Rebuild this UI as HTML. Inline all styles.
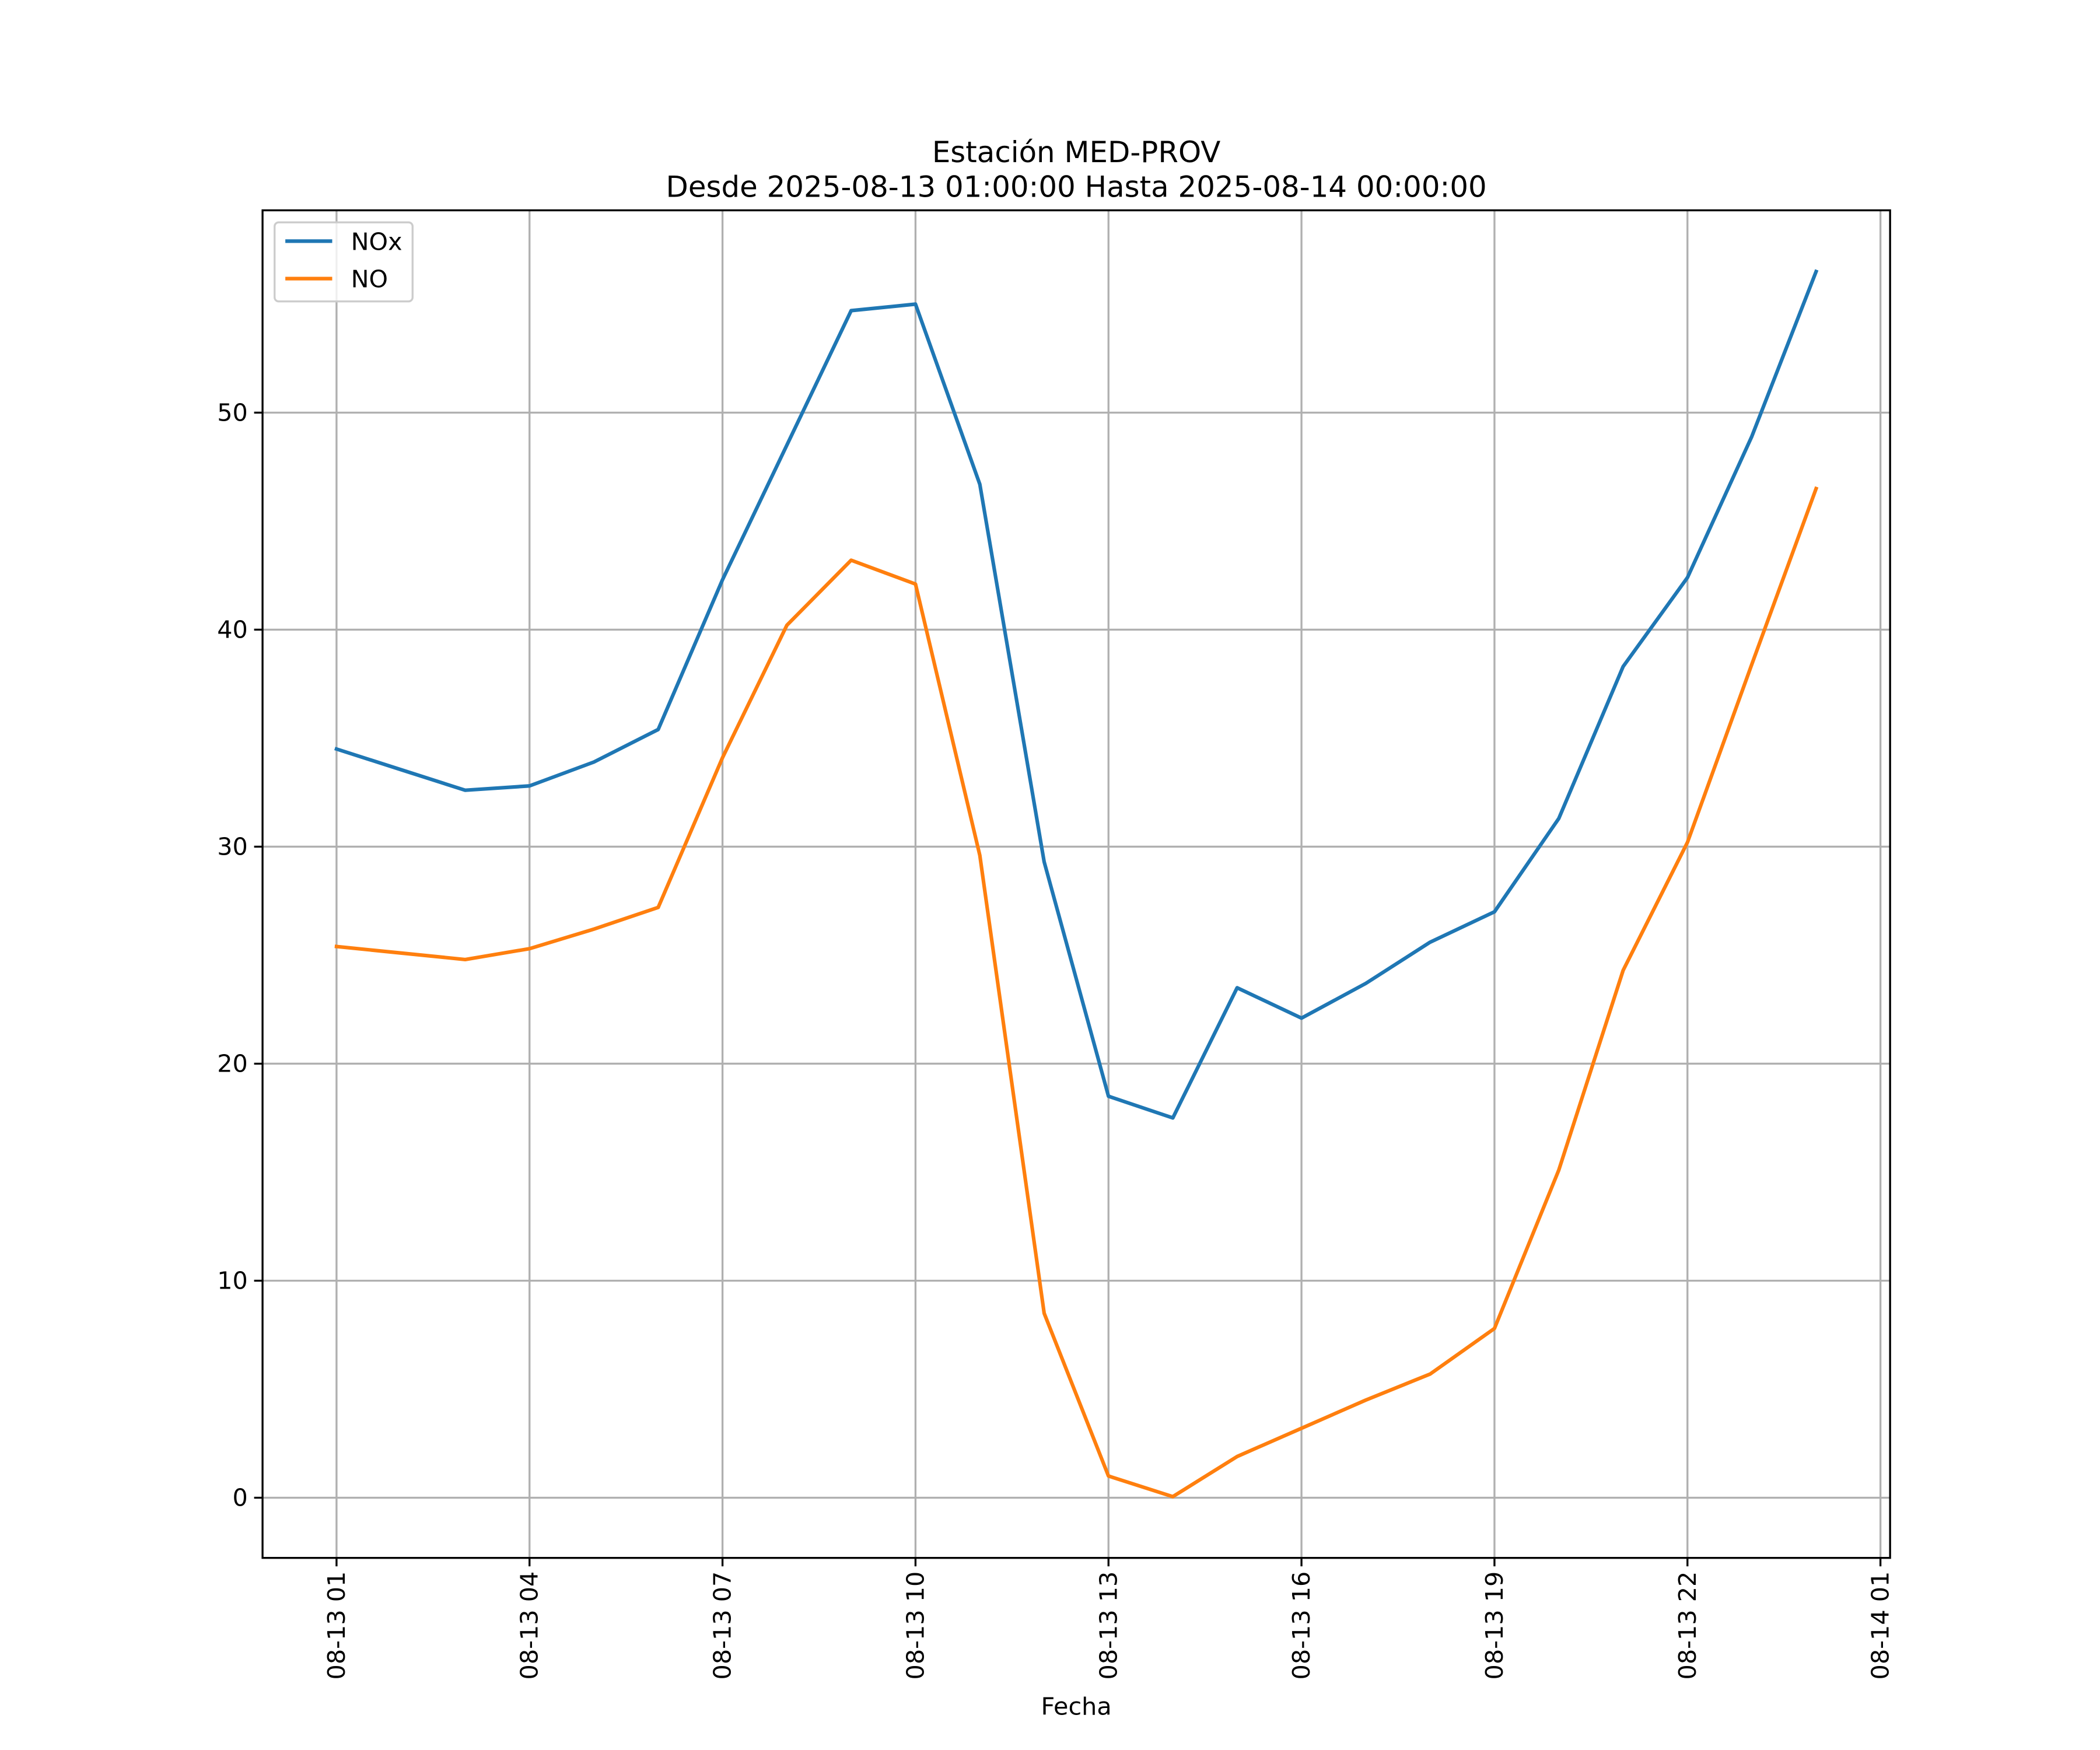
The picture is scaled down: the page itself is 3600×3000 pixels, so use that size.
<!DOCTYPE html>
<html><head><meta charset="utf-8"><style>
html,body{margin:0;padding:0;background:#fff}
svg{display:block}
text{font-family:"DejaVu Sans","Liberation Sans",sans-serif;fill:#000}
</style></head><body>
<svg id="chart" width="3600" height="3000" viewBox="0 0 1567.7 1306.4" xmlns="http://www.w3.org/2000/svg">
<rect width="1567.7" height="1306.4" fill="#fff"/>
<g id="grid"></g>
<g id="series"></g>
<rect x="196" y="157" width="1215" height="1006" fill="none" stroke="#000" stroke-width="1.45"/>
<g id="ticks"></g>
<text x="803.5" y="121" font-size="21.7" text-anchor="middle">Estación MED-PROV</text>
<text x="803.5" y="147" font-size="21.7" text-anchor="middle">Desde 2025-08-13 01:00:00 Hasta 2025-08-14 00:00:00</text>
<text x="803.5" y="1280" font-size="18" text-anchor="middle">Fecha</text>
<g>
<rect x="205" y="166" width="103" height="59" rx="3" fill="#fff" fill-opacity="0.8" stroke="#ccc" stroke-width="1.45"/>
<line x1="213" y1="180" x2="248" y2="180" stroke="#1f77b4" stroke-width="2.7"/>
<text x="262" y="186.5" font-size="18">NOx</text>
<line x1="213" y1="208" x2="248" y2="208" stroke="#ff7f0e" stroke-width="2.7"/>
<text x="262" y="214.5" font-size="18">NO</text>
</g>
</svg>
<script>
const hours = [1,2,3,4,5,6,7,8,9,10,11,12,13,14,15,16,17,18,19,20,21,22,23,24];
const noxValues = [34.5,33.55,32.6,32.8,33.9,35.4,42.3,48.5,54.7,55.0,46.7,29.3,18.5,17.5,23.5,22.1,23.7,25.6,27.0,31.3,38.3,42.4,48.9,56.5];
const noValues = [25.4,25.1,24.8,25.3,26.2,27.2,34.1,40.2,43.2,42.1,29.6,8.5,1.0,0.05,1.9,3.2,4.5,5.7,7.8,15.1,24.3,30.2,38.4,46.5];
const xTickHours = [1,4,7,10,13,16,19,22,25];
const xTickLabels = ["08-13 01","08-13 04","08-13 07","08-13 10","08-13 13","08-13 16","08-13 19","08-13 22","08-14 01"];
const yTicks = [0,10,20,30,40,50];

const L=196,R=1411,T=157,B=1163;
const all=noxValues.concat(noValues);
const xmin0=Math.min(...hours),xmax0=Math.max(...hours),xm=(xmax0-xmin0)*0.05;
const ymin0=Math.min(...all),ymax0=Math.max(...all),ym=(ymax0-ymin0)*0.05;
const X=h=>L+(h-(xmin0-xm))/((xmax0+xm)-(xmin0-xm))*(R-L);
const Y=v=>B-(v-(ymin0-ym))/((ymax0+ym)-(ymin0-ym))*(B-T);
const NS="http://www.w3.org/2000/svg";
function mk(tag,attrs,parent){const e=document.createElementNS(NS,tag);for(const k in attrs)e.setAttribute(k,attrs[k]);parent.appendChild(e);return e;}
const grid=document.getElementById('grid'),ticks=document.getElementById('ticks'),series=document.getElementById('series');
xTickHours.forEach((h,i)=>{
  const x=X(h);
  const g=mk('line',{x1:x,y1:T,x2:x,y2:B,stroke:'#b0b0b0','stroke-width':1.45},grid);
  
  
  const t=mk('line',{x1:x,y1:B,x2:x,y2:B+6.3,stroke:'#000','stroke-width':1.45},ticks);
  
  
  const tx=mk('text',{x:0,y:0,'font-size':18,'text-anchor':'end','dominant-baseline':'central',transform:`translate(${x},${B+10}) rotate(-90)`},ticks);
  tx.textContent=xTickLabels[i];
  
  
});
yTicks.forEach(v=>{
  const y=Y(v);
  const g=mk('line',{x1:L,y1:y,x2:R,y2:y,stroke:'#b0b0b0','stroke-width':1.45},grid);
  
  
  const t=mk('line',{x1:L-6.3,y1:y,x2:L,y2:y,stroke:'#000','stroke-width':1.45},ticks);
  
  
  const tx=mk('text',{x:L-11,y:y,'font-size':18,'text-anchor':'end','dominant-baseline':'central'},ticks);
  tx.textContent=String(v);
  
  
});
function line(vals,color,name){
  const pts=hours.map((h,i)=>X(h).toFixed(2)+','+Y(vals[i]).toFixed(2)).join(' ');
  const p=mk('polyline',{points:pts,fill:'none',stroke:color,'stroke-width':2.7,'stroke-linejoin':'round','stroke-linecap':'square'},series);
  
  
}
line(noxValues,'#1f77b4','nox-line');
line(noValues,'#ff7f0e','no-line');
</script>
</body></html>
